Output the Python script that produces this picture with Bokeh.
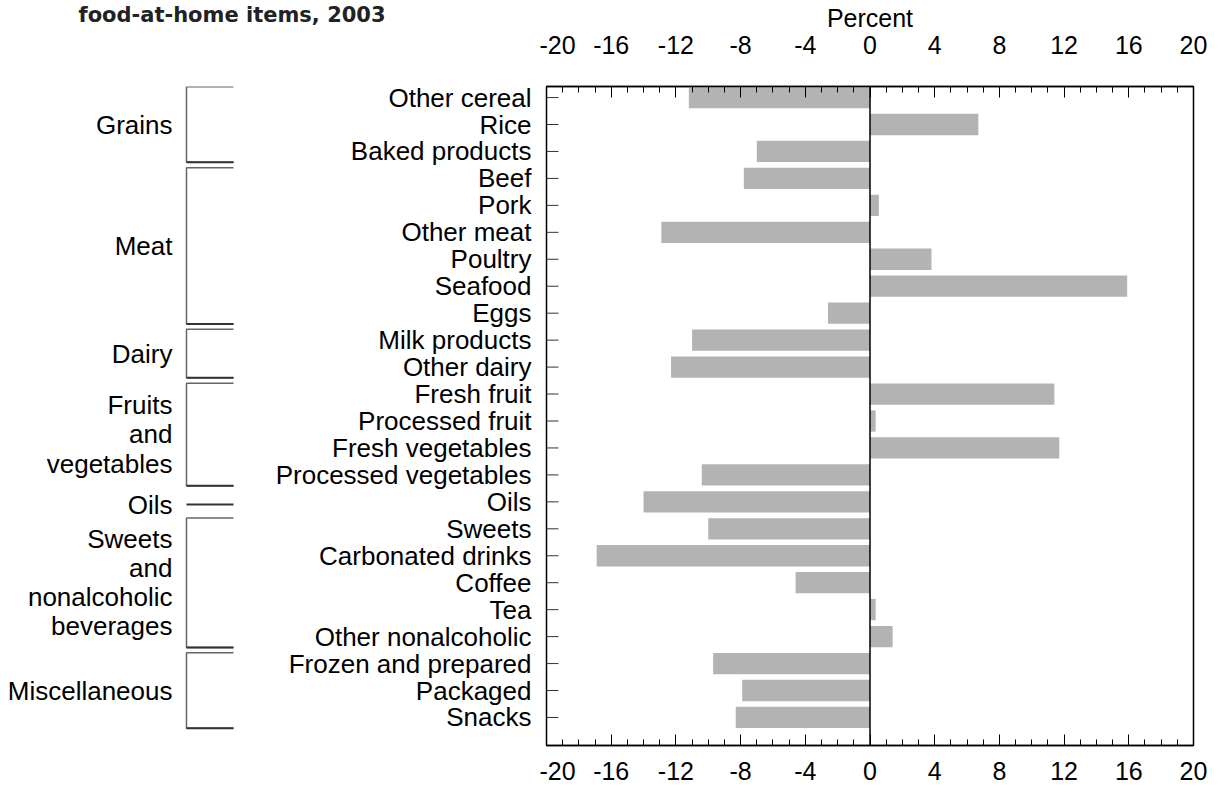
import numpy as np
from bokeh.plotting import figure
from bokeh.layouts import row, column
from bokeh.models import Range1d, LinearAxis, FixedTicker, Span
from bokeh.core.properties import value
from bokeh.embed import file_html
from bokeh.resources import INLINE

# ---------------- data ----------------
categories = ["Other cereal", "Rice", "Baked products", "Beef", "Pork", "Other meat",
              "Poultry", "Seafood", "Eggs", "Milk products", "Other dairy",
              "Fresh fruit", "Processed fruit", "Fresh vegetables", "Processed vegetables",
              "Oils", "Sweets", "Carbonated drinks", "Coffee", "Tea",
              "Other nonalcoholic", "Frozen and prepared", "Packaged", "Snacks"]
values = [-11.2, 6.7, -7.0, -7.8, 0.55, -12.9, 3.8, 15.9, -2.6, -11.0, -12.3,
          11.4, 0.35, 11.7, -10.4, -14.0, -10.0, -16.9, -4.6, 0.35, 1.4,
          -9.7, -7.9, -8.3]
group_names = ["Grains", "Meat", "Dairy", "Fruits\nand\nvegetables", "Oils",
               "Sweets\nand\nnonalcoholic\nbeverages", "Miscellaneous"]
group_sizes = [3, 6, 2, 4, 1, 5, 3]
x_major_ticks = list(range(-20, 21, 4))
x_minor_ticks = list(range(-20, 21, 1))
title_text = "food-at-home items, 2003"
axis_title = "Percent"

# ---------------- layout (pixels) ----------------
TOTAL_W, TOTAL_H = 1221, 793
WL = 539                      # left panel width (labels, brackets, title)
WM = TOTAL_W - WL             # main chart width
TH = 34                       # title strip height (above the left panel)
BL, BR, BT, BB = 7, 28, 86, 48
Y_TOP, Y_BOT = -0.41, 24.04   # row range shown in the chart frame
X0, X1 = -20, 20
frame_w = WM - BL - BR
px_x = frame_w / (X1 - X0)

FONT = "Liberation Sans"
FS_AX = "25px"
FS_LAB = "26px"

yr = Range1d(Y_BOT, Y_TOP)    # shared, flipped (first category on top)

# ---------------- main chart ----------------
p = figure(width=WM, height=TOTAL_H, output_backend="svg", toolbar_location=None,
           x_range=Range1d(X0, X1), y_range=yr,
           min_border_left=BL, min_border_right=BR, min_border_top=BT,
           min_border_bottom=BB, tools="")
p.outline_line_color = "black"
p.outline_line_width = 1.5
p.xgrid.grid_line_color = None
p.ygrid.grid_line_color = None

ypos = np.arange(len(categories))
p.hbar(y=ypos, left=0, right=values, height=0.79,
       fill_color="#b3b3b3", line_color=None)
p.add_layout(Span(location=0, dimension="height", line_color="black", line_width=1.5))

# category tick marks on the inside of the left frame edge
p.segment(x0=[X0] * len(ypos), x1=[X0 + 12 / px_x] * len(ypos), y0=ypos, y1=ypos,
          line_color="#333333", line_width=1)

top_axis = LinearAxis()
p.add_layout(top_axis, "above")
bottom_axis = p.below[0]
for ax in [bottom_axis, top_axis]:
    ax.ticker = FixedTicker(ticks=x_major_ticks, minor_ticks=x_minor_ticks)
    ax.major_label_overrides = {t: str(t) for t in x_major_ticks}
    ax.major_tick_in = 11
    ax.major_tick_out = 0
    ax.minor_tick_in = 6
    ax.minor_tick_out = 0
    ax.axis_line_color = "black"
    ax.axis_line_width = 1.5
    ax.major_tick_line_color = "black"
    ax.minor_tick_line_color = "black"
    ax.major_label_text_font = FONT
    ax.major_label_text_font_size = FS_AX
    ax.major_label_text_color = "black"
bottom_axis.major_label_standoff = 16
top_axis.major_label_standoff = 33
top_axis.axis_label = axis_title
top_axis.axis_label_text_font = FONT
top_axis.axis_label_text_font_size = FS_AX
top_axis.axis_label_text_font_style = "normal"
top_axis.axis_label_text_color = "black"
top_axis.axis_label_standoff = 1
p.yaxis.visible = False

# ---------------- title strip (top left) ----------------
T = figure(width=WL, height=TH, output_backend="svg", toolbar_location=None,
           x_range=Range1d(0, WL), y_range=Range1d(TH, 0),
           min_border=0, tools="")
T.outline_line_color = None
T.xaxis.visible = False
T.yaxis.visible = False
T.xgrid.grid_line_color = None
T.ygrid.grid_line_color = None
T.text(x=[78], y=[2], text=[title_text], text_align="left",
       text_baseline="top", text_font=value("DejaVu Sans"),
       text_font_size="21px", text_font_style="bold", text_color="#222222")

# ---------------- left panel ----------------
L = figure(width=WL, height=TOTAL_H - TH, output_backend="svg", toolbar_location=None,
           x_range=Range1d(0, WL), y_range=yr,
           min_border_left=0, min_border_right=0, min_border_top=BT - TH,
           min_border_bottom=BB, tools="")
L.outline_line_color = None
L.xaxis.visible = False
L.yaxis.visible = False
L.xgrid.grid_line_color = None
L.ygrid.grid_line_color = None

# category labels (right aligned next to the chart frame)
L.text(x=[WL - 8] * len(categories), y=ypos, text=categories,
       text_align="right", text_baseline="middle",
       text_font=value(FONT), text_font_size=FS_LAB, text_color="black")

# group brackets and labels
XB, XE, XLAB = 186, 233, 172
br_xs, br_ys, bot_xs, bot_ys = [], [], [], []
lab_y = []
start = 0
for name, size in zip(group_names, group_sizes):
    first, last = start, start + size - 1
    if size == 1:
        yy = first + 0.1
        bot_xs.append([XB, XE]); bot_ys.append([yy, yy])
        lab_y.append(yy)
    else:
        top = first - 0.4
        bot = last + 0.4
        br_xs.append([XE, XB, XB, XE]); br_ys.append([top, top, bot, bot])
        bot_xs.append([XB, XE]); bot_ys.append([bot, bot])
        lab_y.append((top + bot) / 2)
    start += size
L.multi_line(xs=br_xs, ys=br_ys, line_color="#666666", line_width=1.5)
L.multi_line(xs=bot_xs, ys=bot_ys, line_color="#333333", line_width=2)
L.text(x=[XLAB] * len(group_names), y=lab_y, text=group_names,
       text_align="right", text_baseline="middle", text_line_height=0.97,
       text_font=value(FONT), text_font_size=FS_LAB, text_color="black")

layout = row(column(T, L), p)
open("out.html", "w").write(file_html(layout, INLINE))
